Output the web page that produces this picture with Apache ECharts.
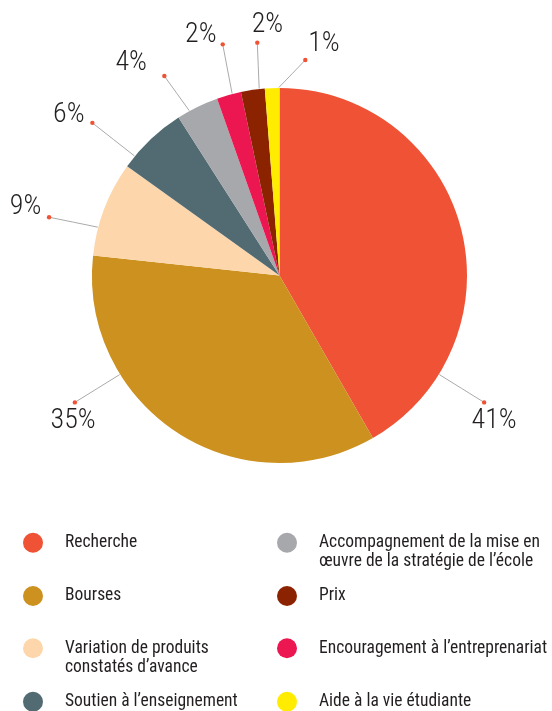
<!DOCTYPE html>
<html><head><meta charset="utf-8">
<script src="https://cdn.jsdelivr.net/npm/echarts@6/dist/echarts.min.js"></script>
<style>html,body{margin:0;padding:0;background:#fff}#c{width:552px;height:711px}</style>
</head><body><div id="c"></div>
<script>
// ---- data ----
const categories = [
  'Recherche',
  'Bourses',
  'Variation de produits\nconstatés d’avance',
  'Soutien à l’enseignement',
  'Accompagnement de la mise en\nœuvre de la stratégie de l’école',
  'Encouragement à l’entreprenariat',
  'Prix',
  'Aide à la vie étudiante'
];
const values = [41.7, 35.0, 8.2, 6.05, 3.65, 2.1, 2.05, 1.25];
const pctLabels = ['41%', '35%', '9%', '6%', '4%', '2%', '2%', '1%'];

// ---- style / layout ----
const colors = ['#EF5234', '#CC911F', '#FDD7AB', '#526A72', '#A7A8AB', '#EC1651', '#8B2300', '#FFEC00'];
const FONT = "'Roboto Condensed', 'Open Sans', sans-serif";
const TEXT = '#231f20';
const CX = 279.5, CY = 275.5, R = 187.5;
// label leader geometry, polar around pie centre (deg clockwise from top)
const labelGeo = [
  {a0: 121.8, r1: 188, a1: 121.8, r2: 240.8, dx: 10,   dy: 19},
  {a0: 238.2, r1: 188, a1: 238.2, r2: 240.8, dx: -1.7, dy: 19},
  {a0: 284.9, r1: 188, a1: 284.2, r2: 237.7, dx: -23.5, dy: -9.8},
  {a0: 309.5, r1: 188, a1: 309.2, r2: 241.5, dx: -23.5, dy: -7.5},
  {a0: 331.3, r1: 188, a1: 330.0, r2: 230.3, dx: -33.2, dy: -12.7},
  {a0: 345.4, r1: 188, a1: 346.2, r2: 238.0, dx: -21.9, dy: -9.3},
  {a0: 353.8, r1: 188, a1: 354.55, r2: 233.9, dx: 10.2, dy: -17.2},
  {a0: 359.8, r1: 188, a1: 6.83, r2: 217.0, dx: 18.7, dy: -16}
];
// legend slots: [icon left x, icon centre y]
const legendSlots = [[23, 542.7], [23, 596], [23, 648.3], [23, 701.7], [277, 542.7], [277, 648.3], [277, 596], [277, 701.7]];
const LH = 19;

function pt(a, r) {
  const t = a * Math.PI / 180;
  return [CX + r * Math.sin(t), CY - r * Math.cos(t)];
}

const chart = echarts.init(document.getElementById('c'), null, {renderer: 'canvas'});

const legends = categories.map((name, i) => {
  const [lx, cy] = legendSlots[i];
  const multi = name.indexOf('\n') >= 0;
  return {
    data: [name],
    left: lx,
    top: multi ? cy - 1.5 * LH : cy - 10,
    padding: 0,
    icon: 'circle',
    itemWidth: 20,
    itemHeight: 20,
    selectedMode: false,
    formatter: n => (multi ? '\n' + n : n),
    textStyle: {
      fontFamily: FONT, fontSize: 17.5, color: TEXT, lineHeight: LH,
      padding: [0, 0, 0, 17]
    }
  };
});

const dots = labelGeo.map(g => {
  const e = pt(g.a1, g.r2);
  return {type: 'circle', shape: {cx: e[0], cy: e[1], r: 2.2}, style: {fill: '#EF5234'}, z: 100};
});

chart.setOption({
  animation: false,
  color: colors,
  legend: legends,
  graphic: dots,
  series: [{
    type: 'pie',
    center: [CX, CY],
    radius: R,
    startAngle: 90,
    clockwise: true,
    avoidLabelOverlap: false,
    emphasis: {disabled: true, scale: false},
    itemStyle: {borderWidth: 0},
    label: {
      show: true,
      position: 'outside',
      formatter: p => pctLabels[p.dataIndex],
      fontFamily: FONT,
      fontWeight: 300,
      fontSize: 28,
      color: TEXT
    },
    labelLine: {show: true, length: 10, length2: 10, lineStyle: {color: '#aaaaaa', width: 1}},
    labelLayout: function (p) {
      const g = labelGeo[p.dataIndex];
      const s = pt(g.a0, g.r1), e = pt(g.a1, g.r2);
      return {
        x: e[0] + g.dx, y: e[1] + g.dy, align: 'center', verticalAlign: 'middle',
        labelLinePoints: [s, [(s[0] + e[0]) / 2, (s[1] + e[1]) / 2], e]
      };
    },
    data: categories.map((n, i) => ({name: n, value: values[i]}))
  }]
});
</script></body></html>
